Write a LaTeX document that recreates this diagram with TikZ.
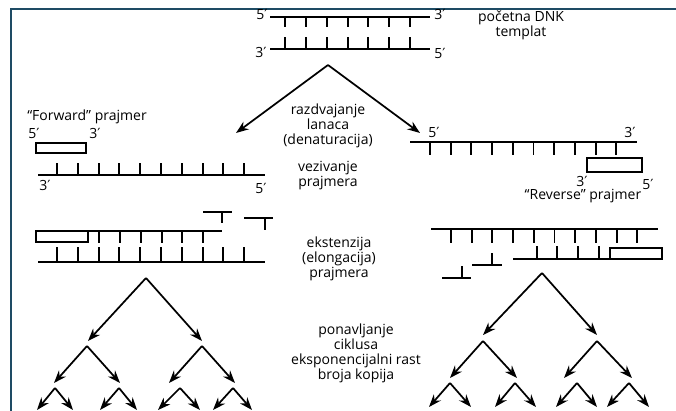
\documentclass[tikz,border=0pt]{standalone}
\usepackage{fontspec}
\setmainfont{Open Sans}
\newfontfamily\primefont{DejaVu Sans}
\usetikzlibrary{arrows.meta}
\newcommand{\prm}{{\primefont ′}}
\definecolor{frameblue}{RGB}{30,75,100}
\tikzset{
  strand/.style={line width=1.5pt},
  basetick/.style={line width=1.4pt},
  primerbox/.style={draw, line width=1.2pt, fill=white},
  lbl/.style={font=\fontsize{10.5}{11.3}\selectfont, inner sep=0pt, align=center},
  endlbl/.style={font=\fontsize{10.5}{11}\selectfont, inner sep=0pt},
  flow/.style={line width=1.3pt, -{Stealth[length=9.5pt,width=7pt]}},
  framerule/.style={draw=frameblue, line width=1.6pt}
}
\begin{document}
\begin{tikzpicture}[x=0.75pt,y=-0.75pt]
\useasboundingbox (0,0) rectangle (676,411);
\fill[white] (0,0) rectangle (676,411);
\draw[framerule] (676,9) -- (11,9) -- (11,411);

% ---- starting double-stranded template ----
\draw[strand] (270,17) -- (430,17);
\draw[strand] (270,49) -- (430,49);
\foreach \x in {285,306,327,348,368,389,410} {
  \draw[basetick] (\x,17) -- (\x,27);
  \draw[basetick] (\x,49) -- (\x,37);
}
\node[endlbl] (tl5) at (262,14) {5\prm};
\node[endlbl] (tr3) at (440,14) {3\prm};
\node[endlbl] (bl3) at (261,52) {3\prm};
\node[endlbl] (br5) at (440,53) {5\prm};
\node[lbl] (template) at (521,25) {početna DNK\\templat};

% ---- denaturation ----
\coordinate (split) at (328,65);
\coordinate (splitL) at (236,133);
\coordinate (splitR) at (420,133);
\draw[flow] (split) -- (splitL);
\draw[flow] (split) -- (splitR);
\node[lbl] (denat) at (328,126) {razdvajanje\\lanaca\\(denaturacija)};
\node[lbl] (anneal) at (328,176) {vezivanje\\prajmera};

% ---- left strand with forward primer ----
\node[lbl, anchor=west] (fwd) at (27,117) {“Forward” prajmer};
\node[endlbl] (f5) at (34,133) {5\prm};
\node[endlbl] (f3) at (95,133) {3\prm};
\draw[primerbox] (36,143) rectangle (86,153);
\draw[strand] (38,175) -- (265,175);
\foreach \k in {0,...,9} \draw[basetick] ({57+20.8*\k},175) -- ({57+20.8*\k},163);
\node[endlbl] (ls3) at (45,185) {3\prm};
\node[endlbl] (ls5) at (261,188) {5\prm};

% ---- right strand with reverse primer ----
\draw[strand] (410,142) -- (637,142);
\foreach \k in {0,...,9} \draw[basetick] ({430+20.7*\k},142) -- ({430+20.7*\k},155);
\node[endlbl] (rs5) at (434,132) {5\prm};
\node[endlbl] (rs3) at (630,132) {3\prm};
\draw[primerbox] (587,158) rectangle (642,172);
\node[endlbl] (r3) at (582,181) {3\prm};
\node[endlbl] (r5) at (648,184) {5\prm};
\node[lbl] (rev) at (583,196) {“Reverse” prajmer};

% ---- extension, left ----
\draw[strand] (88,231) -- (222,231);
\foreach \x in {99,120,141,162,182,203} \draw[basetick] (\x,231) -- (\x,243);
\draw[primerbox] (36,231) rectangle (88,242);
\draw[strand] (38,262) -- (265,262);
\foreach \k in {0,...,9} \draw[basetick] ({57+20.8*\k},262) -- ({57+20.8*\k},247);
\draw[strand] (203,212) -- (232,212);
\draw[basetick] (222,212) -- (222,223);
\draw[strand] (244,218) -- (273,218);
\draw[basetick] (265,218) -- (265,230);
\node[lbl] (ext) at (339,259) {ekstenzija\\(elongacija)\\prajmera};

% ---- extension, right ----
\draw[strand] (431,229) -- (658,229);
\foreach \k in {0,...,9} \draw[basetick] ({451+20.7*\k},229) -- ({451+20.7*\k},243);
\draw[strand] (513,259) -- (610,259);
\foreach \x in {537,557,578,599} \draw[basetick] (\x,259) -- (\x,246);
\draw[primerbox] (610,248) rectangle (662,259);
\draw[strand] (472,265) -- (502,265);
\draw[basetick] (492,265) -- (492,253);
\draw[strand] (442,278) -- (471,278);
\draw[basetick] (462,278) -- (462,266);

\node[lbl] (cycle) at (356,353) {ponavljanje\\ciklusa\\eksponencijalni rast\\broja kopija};

% ---- left amplification tree ----
\coordinate (a0) at (146,278);
\coordinate (a1) at (88,341);  \coordinate (a2) at (202,341);
\draw[flow] (a0) -- (a1);
\draw[flow] (a0) -- (a2);
\coordinate (b1) at (87,346);  \coordinate (b2) at (202,346);
\coordinate (b11) at (54,383); \coordinate (b12) at (120,383);
\coordinate (b21) at (169,383); \coordinate (b22) at (235,383);
\draw[flow] (b1) -- (b11); \draw[flow] (b1) -- (b12);
\draw[flow] (b2) -- (b21); \draw[flow] (b2) -- (b22);
\foreach \n/\ax/\lx/\rx in {1/55/37/73, 2/119/100/137, 3/180/158/200, 4/233/213/252} {
  \coordinate (c\n) at (\ax,388);
  \coordinate (c\n l) at (\lx,410);
  \coordinate (c\n r) at (\rx,410);
  \draw[flow] (c\n) -- (c\n l);
  \draw[flow] (c\n) -- (c\n r);
}

% ---- right amplification tree ----
\coordinate (d0) at (542,273);
\coordinate (d1) at (483,335); \coordinate (d2) at (597,335);
\draw[flow] (d0) -- (d1);
\draw[flow] (d0) -- (d2);
\coordinate (e1) at (483,341); \coordinate (e2) at (597,341);
\coordinate (e11) at (450,378); \coordinate (e12) at (517,378);
\coordinate (e21) at (564,378); \coordinate (e22) at (632,378);
\draw[flow] (e1) -- (e11); \draw[flow] (e1) -- (e12);
\draw[flow] (e2) -- (e21); \draw[flow] (e2) -- (e22);
\foreach \n/\ax/\lx/\rx in {1/450/429/471, 2/515/495/536, 3/577/556/597, 4/629/607/649} {
  \coordinate (g\n) at (\ax,383);
  \coordinate (g\n l) at (\lx,407);
  \coordinate (g\n r) at (\rx,407);
  \draw[flow] (g\n) -- (g\n l);
  \draw[flow] (g\n) -- (g\n r);
}
\end{tikzpicture}
\end{document}
